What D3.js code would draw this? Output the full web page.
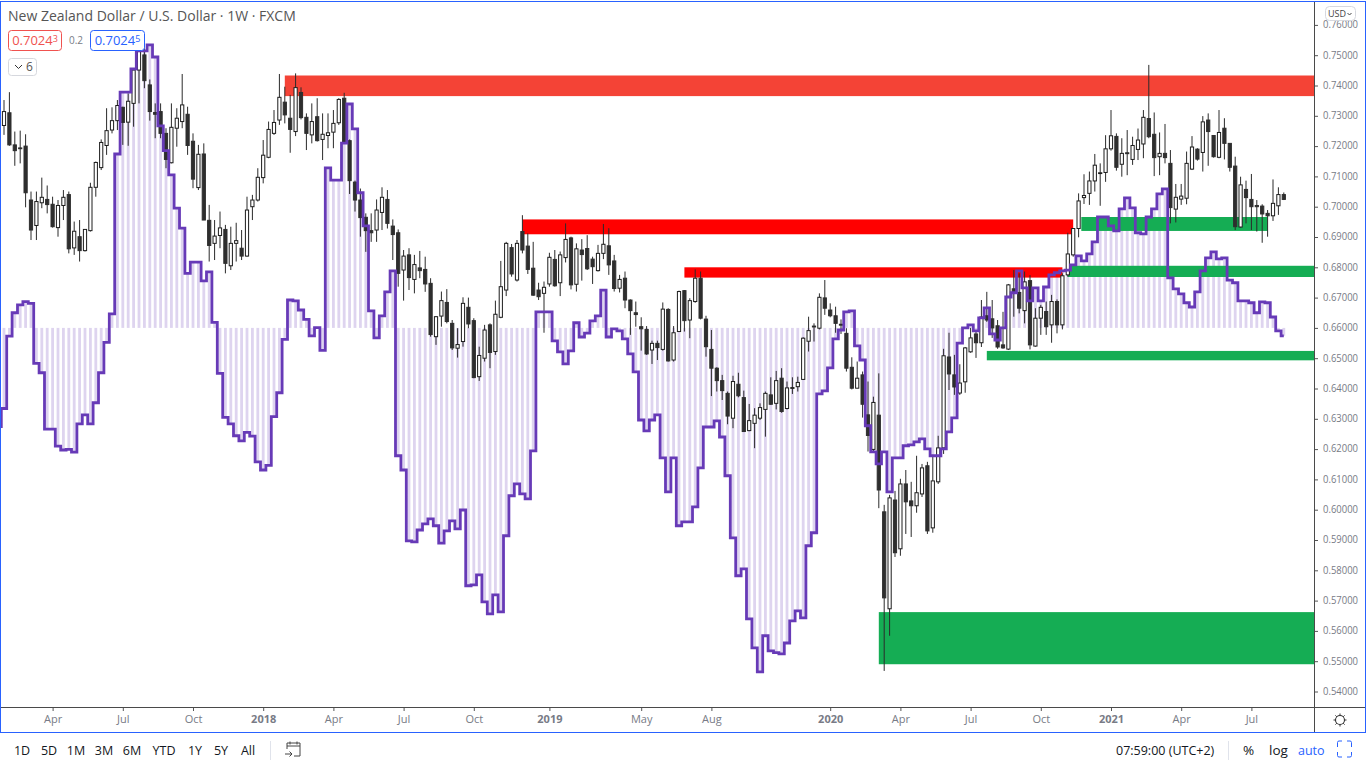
<!DOCTYPE html>
<html><head><meta charset="utf-8">
<script src="https://cdn.jsdelivr.net/npm/d3@7/dist/d3.min.js"></script>
<style>
html,body{margin:0;padding:0;background:#fff;overflow:hidden}
svg{display:block}
text{font-family:"Open Sans","Noto Sans",sans-serif}
</style></head><body>
<svg id="c" width="1366" height="768"></svg>
<script>
const title="New Zealand Dollar / U.S. Dollar · 1W · FXCM";
const open=[.7268,.7310,.7204,.7194,.7200,.7022,.6938,.7013,.7024,.7008,.6931,.7004,.7040,.6864,.6901,.6855,.6921,.7064,.7129,.7202,.7253,.7284,.7328,.7279,.7341,.7451,.7501,.7402,.7311,.7314,.7242,.7145,.7259,.7281,.7305,.7216,.7063,.7174,.6955,.6879,.6905,.6925,.6805,.6879,.6863,.6837,.7000,.7022,.7096,.7163,.7242,.7286,.7345,.7292,.7248,.7377,.7295,.7237,.7297,.7222,.7235,.7246,.7277,.7358,.7218,.7081,.7022,.6965,.6921,.6923,.6981,.7024,.6936,.6914,.6791,.6841,.6760,.6798,.6793,.6747,.6571,.6639,.6684,.6615,.6533,.6555,.6668,.6624,.6439,.6500,.6610,.6522,.6635,.6725,.6865,.6758,.6918,.6870,.6797,.6725,.6714,.6745,.6826,.6749,.6832,.6897,.6744,.6857,.6862,.6827,.6789,.6846,.6871,.6821,.6731,.6764,.6692,.6650,.6604,.6595,.6527,.6549,.6529,.6661,.6494,.6588,.6723,.6626,.6687,.6764,.6629,.6529,.6467,.6426,.6384,.6302,.6414,.6370,.6261,.6285,.6302,.6331,.6379,.6351,.6434,.6334,.6402,.6406,.6430,.6556,.6606,.6599,.6699,.6659,.6640,.6612,.6582,.6470,.6401,.6445,.6313,.6199,.6312,.5993,.5673,.6032,.5871,.6085,.6029,.6013,.6052,.6145,.5940,.6092,.6204,.6504,.6445,.6385,.6422,.6521,.6580,.6551,.6640,.6630,.6607,.6544,.6530,.6729,.6717,.6657,.6756,.6540,.6632,.6654,.6610,.6687,.6610,.6775,.6841,.6928,.7030,.7044,.7085,.7111,.7113,.7191,.7232,.7140,.7178,.7156,.7189,.7207,.7291,.7239,.7165,.7176,.7143,.6992,.7025,.7028,.7124,.7190,.7179,.7286,.7235,.7163,.7259,.7209,.7134,.6933,.7057,.7024,.7004,.7002,.6978,.6970,.7003,.7040];
const high=[.7352,.7378,.7248,.7251,.7239,.7050,.7050,.7096,.7070,.7033,.7022,.7055,.7050,.6951,.6956,.6925,.7079,.7149,.7222,.7325,.7328,.7352,.7330,.7374,.7451,.7528,.7539,.7420,.7341,.7341,.7259,.7341,.7325,.7438,.7330,.7242,.7204,.7209,.7006,.6956,.6984,.6940,.6934,.6947,.6923,.7033,.7039,.7127,.7220,.7281,.7319,.7438,.7396,.7369,.7440,.7394,.7308,.7341,.7358,.7308,.7308,.7319,.7358,.7376,.7222,.7086,.7060,.6978,.6978,.7024,.7064,.7055,.6958,.6925,.6857,.6863,.6841,.6854,.6835,.6764,.6639,.6720,.6728,.6626,.6599,.6701,.6700,.6632,.6538,.6610,.6615,.6690,.6821,.6884,.6877,.6890,.6972,.6912,.6884,.6749,.6753,.6848,.6857,.6852,.6945,.6901,.6879,.6893,.6906,.6835,.6874,.6943,.6929,.6841,.6775,.6786,.6694,.6687,.6635,.6606,.6558,.6558,.6684,.6665,.6606,.6723,.6725,.6698,.6793,.6786,.6640,.6593,.6470,.6445,.6390,.6442,.6452,.6393,.6349,.6335,.6351,.6390,.6437,.6458,.6467,.6423,.6437,.6439,.6569,.6637,.6615,.6714,.6758,.6681,.6670,.6628,.6599,.6503,.6489,.6456,.6423,.6373,.6450,.6016,.6049,.6062,.6102,.6131,.6092,.6178,.6151,.6158,.6181,.6244,.6531,.6584,.6511,.6480,.6537,.6600,.6590,.6692,.6719,.6692,.6626,.6653,.6745,.6791,.6780,.6786,.6774,.6665,.6676,.6687,.6709,.6694,.6780,.6914,.6928,.7044,.7107,.7116,.7174,.7143,.7236,.7319,.7242,.7226,.7253,.7231,.7258,.7319,.7468,.7311,.7245,.7273,.7187,.7075,.7075,.7182,.7233,.7193,.7299,.7308,.7236,.7319,.7292,.7209,.7165,.7099,.7086,.7108,.7022,.7008,.6989,.7090,.7064,.7047];
const low=[.7237,.7201,.7135,.7143,.6998,.6890,.6890,.6995,.6978,.6931,.6901,.6956,.6846,.6841,.6819,.6852,.6918,.7033,.7121,.7171,.7242,.7253,.7204,.7201,.7264,.7341,.7391,.7284,.7226,.7226,.7127,.7143,.7198,.7259,.7171,.7061,.7055,.6956,.6819,.6824,.6863,.6780,.6791,.6819,.6824,.6835,.6956,.7017,.7077,.7160,.7237,.7270,.7275,.7178,.7233,.7288,.7187,.7209,.7215,.7154,.7193,.7193,.7270,.7209,.7042,.6984,.6901,.6851,.6884,.6884,.6923,.6928,.6824,.6736,.6690,.6725,.6714,.6764,.6719,.6571,.6544,.6604,.6615,.6527,.6502,.6538,.6599,.6434,.6425,.6489,.6467,.6511,.6632,.6705,.6769,.6753,.6846,.6778,.6706,.6692,.6584,.6736,.6736,.6705,.6816,.6727,.6720,.6756,.6791,.6745,.6786,.6827,.6775,.6720,.6717,.6665,.6577,.6604,.6525,.6511,.6481,.6494,.6525,.6489,.6489,.6588,.6588,.6566,.6683,.6628,.6505,.6375,.6390,.6362,.6282,.6269,.6371,.6257,.6259,.6203,.6296,.6241,.6346,.6331,.6320,.6331,.6382,.6390,.6428,.6522,.6555,.6595,.6643,.6635,.6584,.6580,.6456,.6397,.6401,.6304,.6192,.6191,.6005,.5468,.5584,.5844,.5848,.5920,.5910,.5990,.6042,.5920,.5924,.6085,.6184,.6395,.6379,.6379,.6386,.6518,.6501,.6537,.6620,.6567,.6531,.6531,.6527,.6637,.6648,.6615,.6529,.6538,.6577,.6577,.6551,.6582,.6595,.6769,.6835,.6899,.7009,.7006,.7050,.7003,.7082,.7185,.7119,.7099,.7104,.7138,.7154,.7160,.7226,.7101,.7104,.7143,.6945,.6948,.7006,.7008,.7121,.7152,.7116,.7135,.7162,.7160,.7156,.7116,.6923,.6931,.6945,.6923,.6918,.6881,.6901,.6953,.6973,.7022];
const close=[.7314,.7204,.7185,.7193,.7046,.6923,.7017,.7031,.7007,.6934,.7004,.7031,.6861,.6919,.6855,.6925,.7064,.7146,.7212,.7251,.7284,.7334,.7278,.7348,.7451,.7512,.7416,.7314,.7305,.7242,.7156,.7262,.7292,.7336,.7202,.7091,.7173,.6956,.6872,.6903,.6930,.6813,.6879,.6888,.6837,.6989,.7022,.7097,.7170,.7255,.7278,.7361,.7303,.7255,.7393,.7294,.7242,.7281,.7218,.7239,.7244,.7275,.7354,.7212,.7086,.7022,.6964,.6921,.6914,.6989,.7031,.6945,.6908,.6780,.6837,.6766,.6809,.6789,.6745,.6578,.6637,.6690,.6621,.6534,.6545,.6681,.6613,.6436,.6509,.6593,.6519,.6645,.6736,.6879,.6778,.6879,.6857,.6793,.6708,.6703,.6734,.6833,.6739,.6841,.6892,.6742,.6861,.6842,.6795,.6802,.6846,.6876,.6808,.6730,.6760,.6692,.6657,.6644,.6597,.6514,.6549,.6535,.6662,.6491,.6584,.6720,.6624,.6690,.6764,.6632,.6538,.6467,.6426,.6393,.6309,.6423,.6376,.6258,.6294,.6312,.6337,.6384,.6348,.6426,.6324,.6402,.6403,.6420,.6566,.6591,.6603,.6701,.6665,.6640,.6615,.6609,.6467,.6401,.6434,.6348,.6245,.6354,.6065,.5709,.6039,.5858,.6085,.6026,.6013,.6056,.6138,.5930,.6095,.6204,.6508,.6448,.6405,.6418,.6534,.6567,.6551,.6636,.6626,.6600,.6537,.6534,.6742,.6718,.6665,.6752,.6544,.6632,.6668,.6604,.6687,.6610,.6772,.6844,.6928,.7019,.7037,.7085,.7137,.7112,.7191,.7234,.7130,.7176,.7175,.7202,.7220,.7295,.7231,.7162,.7176,.7162,.6997,.7031,.7035,.7143,.7197,.7157,.7280,.7248,.7165,.7245,.7209,.7130,.6934,.7072,.7030,.7000,.7000,.6976,.6970,.7011,.7040,.7024];
// Oscillator overlay read in the chart's price units; first value is the bar just off the left edge
const osc=[.6274,.6334,.6573,.6650,.6676,.6687,.6681,.6483,.6452,.6266,.6266,.6210,.6197,.6199,.6190,.6283,.6313,.6283,.6353,.6452,.6552,.6646,.7174,.7378,.7378,.7455,.7514,.7514,.7534,.7494,.7267,.7185,.7105,.6995,.6929,.6780,.6817,.6817,.6755,.6785,.6618,.6450,.6305,.6283,.6244,.6227,.6255,.6243,.6158,.6131,.6146,.6307,.6386,.6562,.6692,.6689,.6659,.6628,.6574,.6601,.6526,.7128,.7088,.7088,.7210,.7339,.7257,.7046,.6937,.6656,.6567,.6640,.6719,.6788,.6178,.6131,.5897,.5894,.5933,.5953,.5970,.5947,.5890,.5930,.5963,.5937,.5999,.5749,.5752,.5785,.5696,.5656,.5719,.5663,.5914,.6046,.6085,.6052,.6036,.6194,.6653,.6653,.6653,.6557,.6521,.6481,.6524,.6617,.6570,.6583,.6623,.6640,.6725,.6570,.6597,.6590,.6564,.6514,.6455,.6296,.6260,.6296,.6313,.6171,.6059,.6171,.5947,.5960,.5960,.6009,.6138,.6273,.6273,.6293,.6240,.6112,.5907,.5782,.5805,.5640,.5544,.5465,.5584,.5534,.5528,.5524,.5560,.5633,.5666,.5643,.5881,.5924,.6382,.6392,.6468,.6564,.6593,.6653,.6656,.6541,.6494,.6277,.6191,.6151,.6191,.6059,.6171,.6171,.6211,.6214,.6224,.6234,.6201,.6178,.6178,.6201,.6257,.6303,.6550,.6600,.6610,.6590,.6633,.6666,.6580,.6560,.6600,.6702,.6716,.6788,.6732,.6689,.6732,.6689,.6735,.6775,.6782,.6788,.6791,.6808,.6838,.6821,.6844,.6884,.6966,.6966,.6937,.6920,.6993,.7029,.6996,.6914,.6910,.6966,.6993,.7042,.7059,.6765,.6729,.6712,.6683,.6669,.6719,.6788,.6831,.6851,.6828,.6831,.6758,.6749,.6689,.6689,.6683,.6650,.6686,.6683,.6636,.6590,.6574];
const oscBase=.66;
const zoneStart=[52,96,126,199.5,197,182,162];
const zoneEnd=[250,198,196,234,250,250,250];
const zoneTop=[.7433,.6958,.6800,.6966,.6805,.6524,.5662];
const zoneBottom=[.7365,.6909,.6766,.6920,.6768,.6493,.5490];
const zoneColor=["#f44336","#ff0000","#ff0000","#15ad54","#15ad54","#15ad54","#15ad54"];
const priceTicks=[.54,.55,.56,.57,.58,.59,.60,.61,.62,.63,.64,.65,.66,.67,.68,.69,.70,.71,.72,.73,.74,.75,.76];
const timeTickBars=[9,22,35,48,61,74,87,101,118,131,153,166,179,192,205,218,231];
const timeTickLabels=["Apr","Jul","Oct","2018","Apr","Jul","Oct","2019","May","Aug","2020","Apr","Jul","Oct","2021","Apr","Jul"];
const rangeButtons=["1D","5D","1M","3M","6M","YTD","1Y","5Y","All"];
const rangeButtonX=[22,49,76,104,132,164,195,221,248];

const svg=d3.select("#c");
const x=d3.scaleLinear().domain([0,237]).range([4,1283.8]);
const y=d3.scaleLinear().domain([.54,.74]).range([691.5,85.5]);
const bars=d3.range(open.length);
const defs=svg.append("defs");
defs.append("clipPath").attr("id","pane").append("rect").attr("x",1).attr("y",2).attr("width",1313).attr("height",705);

const pane=svg.append("g").attr("clip-path","url(#pane)");
// histogram columns
pane.append("g").selectAll("rect").data(bars).join("rect")
 .attr("x",i=>x(i)-1.4).attr("width",2.8)
 .attr("y",i=>Math.min(y(osc[i+1]),y(oscBase)))
 .attr("height",i=>Math.abs(y(osc[i+1])-y(oscBase)))
 .attr("fill","#673ab7").attr("fill-opacity",.22);
// zones
pane.append("g").selectAll("rect").data(zoneStart).join("rect")
 .attr("x",(d,i)=>x(d)).attr("width",(d,i)=>x(zoneEnd[i])-x(d))
 .attr("y",(d,i)=>y(zoneTop[i])).attr("height",(d,i)=>y(zoneBottom[i])-y(zoneTop[i]))
 .attr("fill",(d,i)=>zoneColor[i]);
// candles
const cg=pane.append("g");
cg.selectAll("line").data(bars).join("line")
 .attr("x1",i=>x(i)).attr("x2",i=>x(i))
 .attr("y1",i=>y(high[i])).attr("y2",i=>y(low[i]))
 .attr("stroke","#2a2a2a").attr("stroke-width",1);
cg.selectAll("rect").data(bars).join("rect")
 .attr("x",i=>x(i)-1.6).attr("width",3.2)
 .attr("y",i=>y(Math.max(open[i],close[i])))
 .attr("height",i=>Math.max(.8,Math.abs(y(open[i])-y(close[i]))))
 .attr("fill",i=>close[i]>=open[i]?"#ffffff":"#2e2e2e")
 .attr("stroke",i=>close[i]>=open[i]?"#1c1c1c":"#2e2e2e").attr("stroke-width",1);
// oscillator line
const line=d3.line().x((d,i)=>x(i-1)).y(d=>y(d)).curve(d3.curveStep);
pane.append("path").attr("d",line(osc)).attr("fill","none").attr("stroke","#673ab7").attr("stroke-width",2.8);

// axes
const axisColor="#787b86";
const py=svg.append("g").attr("transform","translate(1314,0)")
 .call(d3.axisRight(y).tickValues(priceTicks).tickFormat(d3.format(".5f")).tickSize(4).tickPadding(5));
py.select(".domain").remove();
py.selectAll("line").attr("stroke","#555");
py.selectAll("text").attr("font-size",11).attr("fill",axisColor).attr("dy","0.26em")
 .attr("textLength",35).attr("lengthAdjust","spacingAndGlyphs");
const px=svg.append("g").attr("transform","translate(0,707)")
 .call(d3.axisBottom(x).tickValues(timeTickBars).tickFormat((d,i)=>timeTickLabels[i]).tickSize(4).tickPadding(4));
px.select(".domain").remove();
px.selectAll("line").attr("stroke","#555");
px.selectAll("text").attr("font-size",11).attr("fill",axisColor)
 .attr("font-weight",(d,i)=>/^\d+$/.test(timeTickLabels[i])?700:400);

// frame
const frame=svg.append("g");
frame.append("line").attr("x1",1).attr("x2",1365).attr("y1",707.5).attr("y2",707.5).attr("stroke","#4a4a4a");
frame.append("line").attr("x1",1314.5).attr("x2",1314.5).attr("y1",2).attr("y2",732).attr("stroke","#4a4a4a");
frame.append("rect").attr("x",.5).attr("y",1.5).attr("width",1365).attr("height",731).attr("fill","none").attr("stroke","#2962ff");

// header
const h=svg.append("g");
h.append("text").attr("x",8).attr("y",21).attr("font-size",14).attr("fill","#555").text(title);
function valBox(xp,w,col,main,sup){
 h.append("rect").attr("x",xp+.5).attr("y",30.5).attr("width",w).attr("height",20).attr("rx",3).attr("fill","#fff").attr("stroke",col);
 const t=h.append("text").attr("x",xp+w/2+.5).attr("y",45).attr("text-anchor","middle").attr("font-size",13).attr("fill",col);
 t.append("tspan").text(main);
 t.append("tspan").attr("font-size",9).attr("dy",-3).text(sup);
}
valBox(8,53,"#f0524f","0.7024","3");
h.append("text").attr("x",69).attr("y",44).attr("font-size",10).attr("fill","#787b86").text("0.2");
valBox(90,54,"#2962ff","0.7024","5");
h.append("rect").attr("x",8.5).attr("y",58.5).attr("width",28).attr("height",17).attr("rx",3).attr("fill","#fff").attr("stroke","#d6d8de");
h.append("path").attr("d","M15 65l3.5 3.5 3.5-3.5").attr("fill","none").attr("stroke","#333").attr("stroke-width",1);
h.append("text").attr("x",26).attr("y",71).attr("font-size",12).attr("fill","#555").text("6");
// currency button
h.append("rect").attr("x",1325.5).attr("y",6.5).attr("width",30).attr("height",14).attr("rx",4).attr("fill","#fff").attr("stroke","#d6d8de");
h.append("text").attr("x",1328).attr("y",17).attr("font-size",9).attr("fill","#444").text("USD");
h.append("path").attr("d","M1347.500 13l2 2 2-2").attr("fill","none").attr("stroke","#444");
// gear
h.append("circle").attr("cx",1340).attr("cy",720).attr("r",4.5).attr("fill","none").attr("stroke","#333").attr("stroke-width",1.1);
h.append("path").attr("d","M1340 713.5v2M1340 724.5v2M1333.5 720h2M1344.5 720h2M1335.4 715.4l1.4 1.4M1343.2 723.2l1.4 1.4M1344.6 715.4l-1.4 1.4M1336.8 723.2l-1.4 1.4")
 .attr("stroke","#333").attr("stroke-width",1);

// bottom toolbar
const tb=svg.append("g").attr("font-size",12.5).attr("fill","#131722");
tb.selectAll("text.r").data(rangeButtons).join("text").attr("class","r")
 .attr("x",(d,i)=>rangeButtonX[i]).attr("y",755).attr("text-anchor","middle").text(d=>d);
tb.append("line").attr("x1",270.5).attr("x2",270.5).attr("y1",741).attr("y2",760).attr("stroke","#e0e3eb");
tb.append("path").attr("d","M287 748v-6h13v13h-6M287 745h13M290 740.5v3M297 740.5v3M285 753h7M289.5 750.5l2.5 2.5-2.5 2.5")
 .attr("fill","none").attr("stroke","#444").attr("stroke-width",1).attr("transform","translate(0,1)");
tb.append("text").attr("x",1116).attr("y",755).text("07:59:00 (UTC+2)");
tb.append("line").attr("x1",1228.5).attr("x2",1228.5).attr("y1",741).attr("y2",760).attr("stroke","#e0e3eb");
tb.append("text").attr("x",1243).attr("y",755).attr("font-size",13.5).text("%");
tb.append("text").attr("x",1269).attr("y",755).attr("font-size",13.5).text("log");
tb.append("text").attr("x",1298).attr("y",755).attr("font-size",12.5).attr("fill","#2962ff").text("auto");
tb.append("path").attr("d","M1337.5 747v-4.5q0-1.500 1.500-1.500h3M1347 741h3q1.500 0 1.500 1.500v4.500M1351.500 752v3.500q0 1.500-1.500 1.500h-3M1342 757h-3q-1.500 0-1.500-1.500v-3.500")
 .attr("fill","none").attr("stroke","#2962ff").attr("stroke-width",1);
</script></body></html>
